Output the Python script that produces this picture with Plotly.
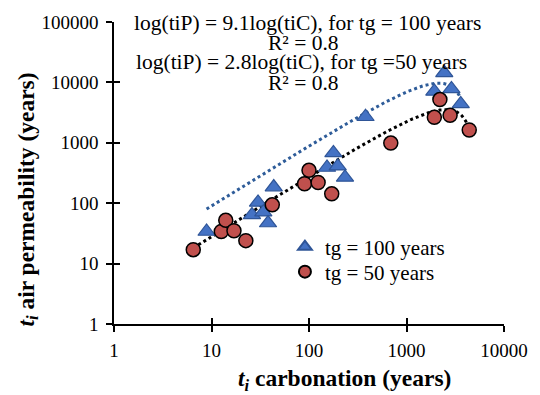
import numpy as np
import plotly.graph_objects as go

# tg = 100 years (triangles)
tri_x = [8.9, 26, 30, 34, 38, 43.5, 153, 178, 197, 234, 380, 1930, 2440, 2890, 3600]
tri_y = [34, 64, 103, 71, 47, 185, 390, 680, 410, 267, 2700, 7100, 14400, 7800, 4400]
# tg = 50 years (circles)
cir_x = [6.5, 12.6, 14, 17, 22.5, 42, 90, 100, 124, 171, 690, 1930, 2200, 2800, 4400]
cir_y = [17, 34, 52, 35, 24, 94, 210, 350, 220, 143, 990, 2640, 5200, 2850, 1630]

x_ticks = [1, 10, 100, 1000, 10000]
y_ticks = [1, 10, 100, 1000, 10000, 100000]

eq_texts = ["log(tiP) = 9.1log(tiC), for tg = 100 years", "R² = 0.8",
            "log(tiP) = 2.8log(tiC), for tg =50 years", "R² = 0.8"]
legend_names = ["tg = 100 years", "tg = 50 years"]

FONT = "Liberation Serif"

def poly_trend(xs, ys):
    # 2nd-order polynomial trendline with intercept set to zero
    X = np.array(xs, float)
    Y = np.array(ys, float)
    A = np.column_stack([X, X ** 2])
    (b, a), *_ = np.linalg.lstsq(A, Y, rcond=None)
    xx = np.logspace(np.log10(X.min()), np.log10(X.max()), 300)
    yy = b * xx + a * xx ** 2
    yy = np.where(yy > 0, yy, np.nan)
    return xx, yy

fig = go.Figure()

bx, by = poly_trend(tri_x, tri_y)
kx, ky = poly_trend(cir_x, cir_y)
fig.add_trace(go.Scatter(x=bx, y=by, mode="lines", showlegend=False,
                         line=dict(color="#2E5C99", width=3, dash="dot")))
fig.add_trace(go.Scatter(x=kx, y=ky, mode="lines", showlegend=False,
                         line=dict(color="black", width=3, dash="dot")))

fig.add_trace(go.Scatter(x=tri_x, y=tri_y, mode="markers", name=legend_names[0],
                         legend="legend",
                         marker=dict(symbol="triangle-up", size=15, color="#4472C4",
                                     line=dict(color="#2F5597", width=1.2))))
fig.add_trace(go.Scatter(x=cir_x, y=cir_y, mode="markers", name=legend_names[1],
                         legend="legend2",
                         marker=dict(symbol="circle", size=14, color="#C0504D",
                                     line=dict(color="black", width=1.5))))

# duplicate axes for inner half of cross ticks
fig.add_trace(go.Scatter(x=[], y=[], xaxis="x2", yaxis="y2", showlegend=False))

axis_common = dict(type="log", showgrid=False, zeroline=False, showline=True,
                   linecolor="black", linewidth=1.5, ticks="outside", ticklen=6,
                   tickwidth=1.5, tickcolor="black",
                   tickfont=dict(family=FONT, size=19, color="black"))

fig.update_layout(
    width=540, height=395,
    margin=dict(l=114, r=29, t=22, b=71),
    paper_bgcolor="white", plot_bgcolor="white",
    xaxis=dict(range=[0, 4], tickvals=x_ticks, ticktext=[str(v) for v in x_ticks],
               ticklabelstandoff=2, **axis_common),
    yaxis=dict(range=[0, 5], tickvals=y_ticks, ticktext=[str(v) for v in y_ticks],
               ticklabelstandoff=4, **axis_common),
    xaxis2=dict(type="log", range=[0, 4], overlaying="x", anchor="y", side="bottom",
                showgrid=False, zeroline=False, showline=False, ticks="inside",
                ticklen=6, tickwidth=1.5, tickcolor="black", tickvals=x_ticks,
                showticklabels=False),
    yaxis2=dict(type="log", range=[0, 5], overlaying="y", anchor="x", side="left",
                showgrid=False, zeroline=False, showline=False, ticks="inside",
                ticklen=6, tickwidth=1.5, tickcolor="black", tickvals=y_ticks,
                showticklabels=False),
    showlegend=True,
    font=dict(family=FONT, size=19, color="black"),
)
leg_common = dict(xanchor="left", yanchor="middle", bgcolor="rgba(0,0,0,0)",
                  itemsizing="constant", itemwidth=30,
                  font=dict(family=FONT, size=21, color="black"))
fig.update_layout(
    legend=dict(x=(288 - 114) / 397, y=1 - (247 - 22) / 302, **leg_common),
    legend2=dict(x=(288 - 114) / 397, y=1 - (272 - 22) / 302, **leg_common),
)

# equation annotations (paper coords)
eq_pos = [(311, 22.7), (307, 43), (305, 62), (307, 83)]
for t, (px, py) in zip(eq_texts, eq_pos):
    fig.add_annotation(text=t, x=(px - 114) / 397, y=1 - (py - 22) / 302,
                       xref="paper", yref="paper", showarrow=False,
                       xanchor="center", yanchor="middle",
                       font=dict(family=FONT, size=21.5, color="black"))

fig.add_annotation(text="<b><i>t<sub>i</sub></i> carbonation (years)</b>",
                   x=(349 - 114) / 397, y=1 - (380 - 22) / 302,
                   xref="paper", yref="paper", showarrow=False,
                   xanchor="center", yanchor="middle",
                   font=dict(family=FONT, size=23.5, color="black"))
fig.add_annotation(text="<b><i>t<sub>i</sub></i> air permeability (years)</b>",
                   x=(26 - 114) / 397, y=1 - (200 - 22) / 302, textangle=-90,
                   xref="paper", yref="paper", showarrow=False,
                   xanchor="center", yanchor="middle",
                   font=dict(family=FONT, size=23.5, color="black"))

fig.write_html("out.html")
